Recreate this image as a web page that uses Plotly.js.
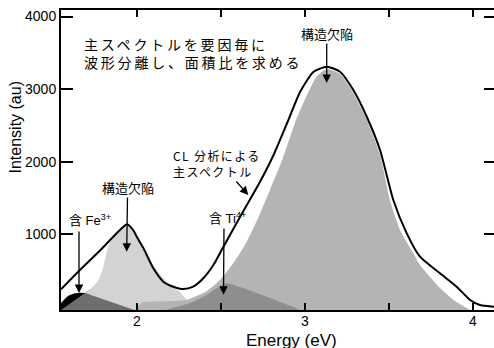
<!DOCTYPE html>
<html>
<head>
<meta charset="utf-8">
<script src="https://cdn.plot.ly/plotly-3.0.1.min.js"></script>
<style>
  html, body { margin: 0; padding: 0; overflow: hidden; background: #fff; }
  #chart { width: 498px; height: 348px; }
</style>
</head>
<body>
<div id="chart"></div>
<script>
// ---- Data (energy in eV, intensity in au) ----
// Main CL spectrum (black line)
const specEnergy = [1.548, 1.655, 1.780, 1.887, 1.941, 1.977, 2.000, 2.038, 2.097, 2.157, 2.216, 2.276, 2.335, 2.395, 2.455, 2.514, 2.590, 2.661, 2.732, 2.816, 2.899, 2.971, 3.050, 3.130, 3.209, 3.288, 3.368, 3.447, 3.526, 3.606, 3.685, 3.804, 3.903, 3.983, 4.042, 4.125];
const specIntensity = [243, 495, 777, 1032, 1138, 1060, 963, 812, 536, 348, 279, 247, 279, 395, 578, 826, 1142, 1432, 1721, 2107, 2561, 2961, 3236, 3309, 3240, 2988, 2620, 2162, 1473, 1014, 692, 463, 279, 96, 27, 3];

// Component: structural defect peak near 1.94 eV (light grey)
const defect1Energy = [1.548, 1.631, 1.691, 1.738, 1.774, 1.798, 1.815, 1.833, 1.863, 1.899, 1.940, 1.970, 1.994, 2.036, 2.077, 2.137, 2.196, 2.256, 2.298, 2.345, 2.375];
const defect1Intensity = [41, 137, 206, 275, 385, 536, 702, 853, 977, 1074, 1122, 1087, 1018, 784, 619, 454, 302, 206, 96, 13, -42];

// Component: structural defect peak near 3.13 eV (mid grey)
const defect2Energy = [1.988, 2.030, 2.110, 2.200, 2.298, 2.417, 2.494, 2.566, 2.643, 2.721, 2.792, 2.869, 2.947, 3.012, 3.072, 3.130, 3.209, 3.288, 3.368, 3.447, 3.506, 3.566, 3.645, 3.685, 3.804, 3.893, 3.983];
const defect2Intensity = [-42, 60, 75, 82, 100, 220, 371, 578, 853, 1225, 1611, 2051, 2575, 2919, 3181, 3277, 3208, 2947, 2575, 2093, 1473, 1060, 739, 578, 261, 82, -42];

// Component: Ti4+ related peak (dark grey)
const tiEnergy = [2.17, 2.25, 2.33, 2.41, 2.47, 2.53, 2.60, 2.68, 2.76, 2.84, 2.92, 2.97];
const tiIntensity = [-42, 10, 65, 160, 250, 326, 285, 220, 150, 80, 10, -42];

// Component: Fe3+ related peak (black)
const feEnergy = [1.548, 1.590, 1.631, 1.673, 1.710, 1.760, 1.800];
const feIntensity = [54, 151, 188, 196, 175, 90, -42];

// Component: low-energy shoulder (darker grey)
const lowEnergy = [1.548, 1.691, 1.985];
const lowIntensity = [-42, 192, -42];

// Axis ticks
const xTickVals = [2, 2.5, 3, 3.5, 4];
const xTickText = ['2', '', '3', '', '4'];
const yTickVals = [1000, 2000, 3000, 4000];
const yTickText = ['1000', '2000', '3000', '4000'];

// ---- Layout helpers (pixel -> data position for labels) ----
const X0 = 1.548, PX_PER_EV = 168, PLOT_L = 61;
const YMIN = -42, YMAX = 4090, PLOT_B = 310, PLOT_H = 300;
const X = px => X0 + (px - PLOT_L) / PX_PER_EV;
const Y = py => YMIN + (PLOT_B - py) * (YMAX - YMIN) / PLOT_H;
const BASE = -80;

const CJK = '"Noto Sans CJK JP", sans-serif';
const LAT = '"Liberation Sans", "Noto Sans CJK JP", sans-serif';

function area(xs, ys, color, shape) {
  const base = {
    x: [xs[0], xs[xs.length - 1]], y: [BASE, BASE],
    mode: 'lines', line: {width: 0, color: color},
    hoverinfo: 'skip', showlegend: false
  };
  const fillTrace = {
    x: xs, y: ys, mode: 'lines', fill: 'tonexty', fillcolor: color,
    line: {width: 0, color: color, shape: shape, smoothing: 0.6},
    hoverinfo: 'skip', showlegend: false
  };
  return [base, fillTrace];
}

const traces = [].concat(
  area(defect1Energy, defect1Intensity, '#d3d3d3', 'spline'),
  area(defect2Energy, defect2Intensity, '#b4b4b4', 'spline'),
  area(tiEnergy, tiIntensity, '#8e8e8e', 'spline'),
  area(feEnergy, feIntensity, '#000000', 'spline'),
  area(lowEnergy, lowIntensity, '#6e6e6e', 'linear'),
  [{
    x: specEnergy, y: specIntensity, mode: 'lines',
    line: {color: '#000', width: 2, shape: 'spline', smoothing: 0.6},
    hoverinfo: 'skip', showlegend: false
  }]
);

function label(text, px, py, xanchor, size, family) {
  return {
    text: text, x: X(px), y: Y(py), xref: 'x', yref: 'y',
    xanchor: xanchor, yanchor: 'middle', align: 'left', showarrow: false,
    font: {family: family || CJK, size: size || 13, color: '#000'}
  };
}
function arrow(tipPx, tipPy, tailPx, tailPy) {
  return {
    text: '', x: X(tipPx), y: Y(tipPy), xref: 'x', yref: 'y',
    ax: tailPx - tipPx, ay: tailPy - tipPy, axref: 'pixel', ayref: 'pixel',
    showarrow: true, arrowhead: 2, arrowsize: 1.3, arrowwidth: 1.3,
    arrowcolor: '#000', standoff: 0, startstandoff: 0
  };
}

const annotations = [
  label('主スペクトルを要因毎に<br>波形分離し、面積比を求める', 82, 52.7, 'left', 14),
  label('構造欠陥', 326.7, 33, 'center', 13),
  arrow(326.7, 83, 326.7, 42),
  label('CL 分析による<br>主スペクトル', 171, 163.5, 'left', 12),
  arrow(248.3, 195, 235, 180),
  label('構造欠陥', 128.3, 187, 'center', 13),
  arrow(126.7, 251.7, 127.5, 196),
  label('含 Fe<sup>3+</sup>', 66.7, 219.5, 'left', 13, LAT),
  arrow(79, 293, 79, 230),
  label('含 Ti<sup>4+</sup>', 206.7, 217.5, 'left', 13, LAT),
  arrow(223.5, 294.7, 224, 227),
  {
    text: 'Energy (eV)', xref: 'paper', yref: 'paper',
    x: (291 - PLOT_L) / 435, y: (PLOT_B - 340) / PLOT_H,
    xanchor: 'center', yanchor: 'middle', showarrow: false,
    font: {family: LAT, size: 17, color: '#000'}
  },
  {
    text: 'Intensity (au)', xref: 'paper', yref: 'paper',
    x: (15 - PLOT_L) / 435, y: (PLOT_B - 127.5) / PLOT_H,
    xanchor: 'center', yanchor: 'middle', textangle: -90, showarrow: false,
    font: {family: LAT, size: 16, color: '#000'}
  }
];

const layout = {
  width: 498, height: 348,
  margin: {l: 61, r: 2, t: 10, b: 38, pad: 0},
  paper_bgcolor: '#fff', plot_bgcolor: '#fff',
  showlegend: false,
  font: {family: LAT, size: 14, color: '#000'},
  xaxis: {
    range: [X0, X0 + 435 / PX_PER_EV],
    tickvals: xTickVals, ticktext: xTickText,
    ticks: 'inside', ticklen: 7, tickwidth: 2, tickcolor: '#000',
    ticklabelstandoff: -3,
    showline: true, linewidth: 2, linecolor: '#000', mirror: 'ticks',
    showgrid: false, zeroline: false,
    tickfont: {family: LAT, size: 14, color: '#000'}
  },
  yaxis: {
    range: [YMIN, YMAX],
    tickvals: yTickVals, ticktext: yTickText,
    ticks: 'inside', ticklen: 12, tickwidth: 2, tickcolor: '#000',
    showline: true, linewidth: 2, linecolor: '#000', mirror: 'ticks',
    showgrid: false, zeroline: false,
    tickfont: {family: LAT, size: 14, color: '#000'}
  },
  annotations: annotations
};

Plotly.newPlot('chart', traces, layout, {staticPlot: true, displayModeBar: false}).then(() => {
  document.querySelectorAll('.annotation-text').forEach(t => {
    const s = t.textContent;
    if (s.indexOf('主スペクトルを') === 0) {
      t.style.letterSpacing = '2.8px';
    } else if (s.indexOf('CL') === 0) {
      t.style.letterSpacing = '1.4px';
    }
  });
});
</script>
</body>
</html>
